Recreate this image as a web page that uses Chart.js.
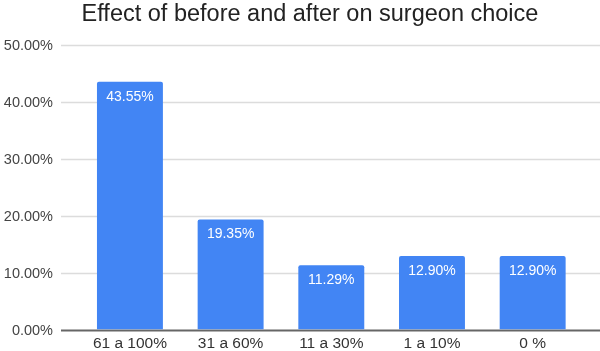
<!DOCTYPE html>
<html>
<head>
<meta charset="utf-8">
<script src="https://cdn.jsdelivr.net/npm/chart.js@4"></script>
<style>
    html, body { margin: 0; padding: 0; background: #fff; }
    #wrap { width: 600px; height: 351px; }
</style>
</head>
<body>
<div id="wrap"><canvas id="surgeonChart" width="600" height="351"></canvas></div>
<script>
// Chart data
const categories = ['61 a 100%', '31 a 60%', '11 a 30%', '1 a 10%', '0 %'];
const shares = [43.55, 19.35, 11.29, 12.90, 12.90];
const yTicks = [0, 10, 20, 30, 40, 50];
const titleText = 'Effect of before and after on surgeon choice';

const barBlue = '#4285f4';
const fontName = '"Liberation Sans", Arial, sans-serif';

/**
 * Gridlines and y labels sit wider than the bar area, like the original
 */
const gridPlugin = {
    id: 'wideGrid',
    beforeDatasetsDraw(chart) {
        const ctx = chart.ctx;
        const y = chart.scales.y;
        ctx.save();
        ctx.font = '14.5px ' + fontName;
        ctx.fillStyle = '#444';
        ctx.textAlign = 'right';
        ctx.textBaseline = 'middle';
        yTicks.forEach(v => {
            const py = Math.round(y.getPixelForValue(v)) + 0.5;
            ctx.beginPath();
            if (v === 0) {
                ctx.strokeStyle = '#666';
                ctx.lineWidth = 2;
            } else {
                ctx.strokeStyle = '#dcdcdc';
                ctx.lineWidth = 1.5;
            }
            ctx.moveTo(61, py);
            ctx.lineTo(600, py);
            ctx.stroke();
            ctx.fillText(v.toFixed(2) + '%', 53, py);
        });
        ctx.restore();
    }
};

/**
 * Value labels inside the top of each bar, and the chart title
 */
const labelPlugin = {
    id: 'barLabels',
    afterDatasetsDraw(chart) {
        const ctx = chart.ctx;
        ctx.save();
        ctx.fillStyle = '#ffffff';
        ctx.font = '14px ' + fontName;
        ctx.textAlign = 'center';
        ctx.textBaseline = 'middle';
        chart.getDatasetMeta(0).data.forEach((bar, i) => {
            ctx.fillText(shares[i].toFixed(2) + '%', bar.x, bar.y + 15);
        });

        // Title sits a bit right of centre in the original
        ctx.fillStyle = '#222';
        ctx.font = '23.5px ' + fontName;
        ctx.textBaseline = 'alphabetic';
        ctx.fillText(titleText, 310, 21);
        ctx.restore();
    }
};

new Chart(document.getElementById('surgeonChart'), {
    type: 'bar',
    data: {
        labels: categories,
        datasets: [{
            data: shares,
            backgroundColor: barBlue,
            borderRadius: { topLeft: 2, topRight: 2 },
            borderSkipped: 'bottom',
            categoryPercentage: 0.655,
            barPercentage: 1
        }]
    },
    options: {
        responsive: false,
        animation: false,
        layout: { padding: { top: 45, right: 17, left: 0, bottom: 0 } },
        plugins: {
            legend: { display: false },
            tooltip: { enabled: false }
        },
        scales: {
            x: {
                grid: { display: false, drawTicks: false },
                border: { display: false },
                ticks: {
                    color: '#333',
                    padding: 5,
                    font: { family: fontName, size: 15.5 }
                },
                afterFit(scale) { scale.height = 21.5; }
            },
            y: {
                min: 0,
                max: 50,
                grid: { display: false, drawTicks: false },
                border: { display: false },
                ticks: { display: false },
                afterBuildTicks(scale) {
                    scale.ticks = yTicks.map(v => ({ value: v }));
                },
                afterFit(scale) { scale.width = 79.6; }
            }
        }
    },
    plugins: [gridPlugin, labelPlugin]
});
</script>
</body>
</html>
